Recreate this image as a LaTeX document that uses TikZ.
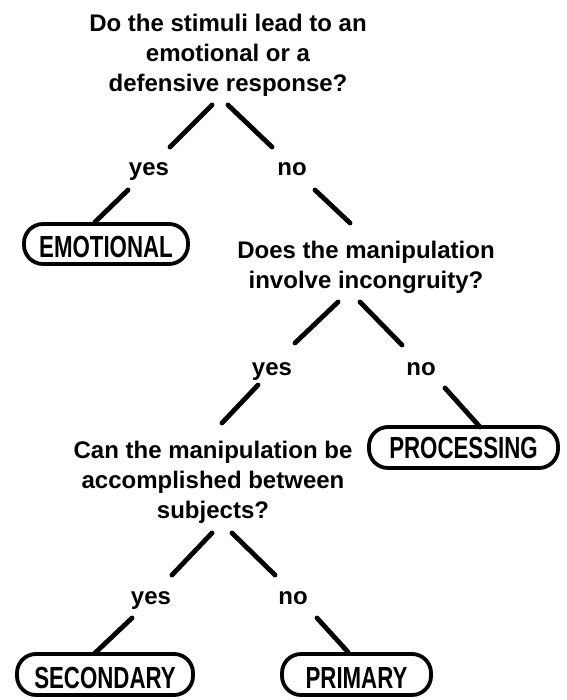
\documentclass[tikz,border=0pt]{standalone}
\usepackage{fontspec}
\setmainfont{Liberation Sans}
\newfontfamily\capfont[FakeStretch=0.73]{Liberation Sans}
\begin{document}
\begin{tikzpicture}[x=1pt,y=-1pt,
  qtext/.style={font=\bfseries\fontsize{24}{30}\selectfont, align=center, inner sep=0pt, anchor=north},
  ans/.style={font=\bfseries\fontsize{24}{30}\selectfont, inner sep=0pt, anchor=base},
  term/.style={draw, line width=3.8pt, rounded corners=19pt, inner sep=0pt,
    font=\capfont\bfseries\fontsize{30.5}{30}\selectfont, minimum height=41pt},
  lowtext/.style={text height=27.5pt, text depth=0pt},
  conn/.style={line width=4.8pt, line cap=round}]
\useasboundingbox (0,0) rectangle (566,700);
% questions
\node[qtext] (q1) at (228,14) {Do the stimuli lead to an\\emotional or a\\defensive response?};
\node[qtext] (q2) at (366,241) {Does the manipulation\\involve incongruity?};
\node[qtext] (q3) at (213,441) {Can the manipulation be\\accomplished between\\subjects?};
% answers
\node[ans] (y1) at (149,176) {yes};
\node[ans] (n1) at (292,176) {no};
\node[ans] (y2) at (272,375) {yes};
\node[ans] (n2) at (421,375) {no};
\node[ans] (y3) at (151,604) {yes};
\node[ans] (n3) at (293,604) {no};
% terminals
\node[term, lowtext, minimum width=164pt, minimum height=40pt] (emo) at (106,244) {EMOTIONAL};
\node[term, minimum width=189pt] (proc) at (463.5,447.5) {PROCESSING};
\node[term, lowtext, minimum width=176pt] (sec) at (105,674.5) {SECONDARY};
\node[term, lowtext, minimum width=149pt] (pri) at (356.5,674.5) {PRIMARY};
% connector end points
\coordinate (q1a) at (212,105); \coordinate (y1a) at (170,147);
\coordinate (q1b) at (228,105); \coordinate (n1a) at (272,147);
\coordinate (y1b) at (128,190); \coordinate (emoa) at (95,222);
\coordinate (n1b) at (315,190); \coordinate (q2t) at (350,223);
\coordinate (q2a) at (338,302); \coordinate (y2a) at (295,343);
\coordinate (q2b) at (360,302); \coordinate (n2a) at (402,345);
\coordinate (y2b) at (258,385); \coordinate (q3t) at (222,423);
\coordinate (n2b) at (445,388); \coordinate (proca) at (480,427);
\coordinate (q3a) at (212,533); \coordinate (y3a) at (172,575);
\coordinate (q3b) at (232,533); \coordinate (n3a) at (275,575);
\coordinate (y3b) at (132,618); \coordinate (seca) at (95,653);
\coordinate (n3b) at (317,618); \coordinate (pria) at (348,652);
% connectors
\draw[conn] (q1a) -- (y1a);
\draw[conn] (q1b) -- (n1a);
\draw[conn] (y1b) -- (emoa);
\draw[conn] (n1b) -- (q2t);
\draw[conn] (q2a) -- (y2a);
\draw[conn] (q2b) -- (n2a);
\draw[conn] (y2b) -- (q3t);
\draw[conn] (n2b) -- (proca);
\draw[conn] (q3a) -- (y3a);
\draw[conn] (q3b) -- (n3a);
\draw[conn] (y3b) -- (seca);
\draw[conn] (n3b) -- (pria);
\end{tikzpicture}
\end{document}
